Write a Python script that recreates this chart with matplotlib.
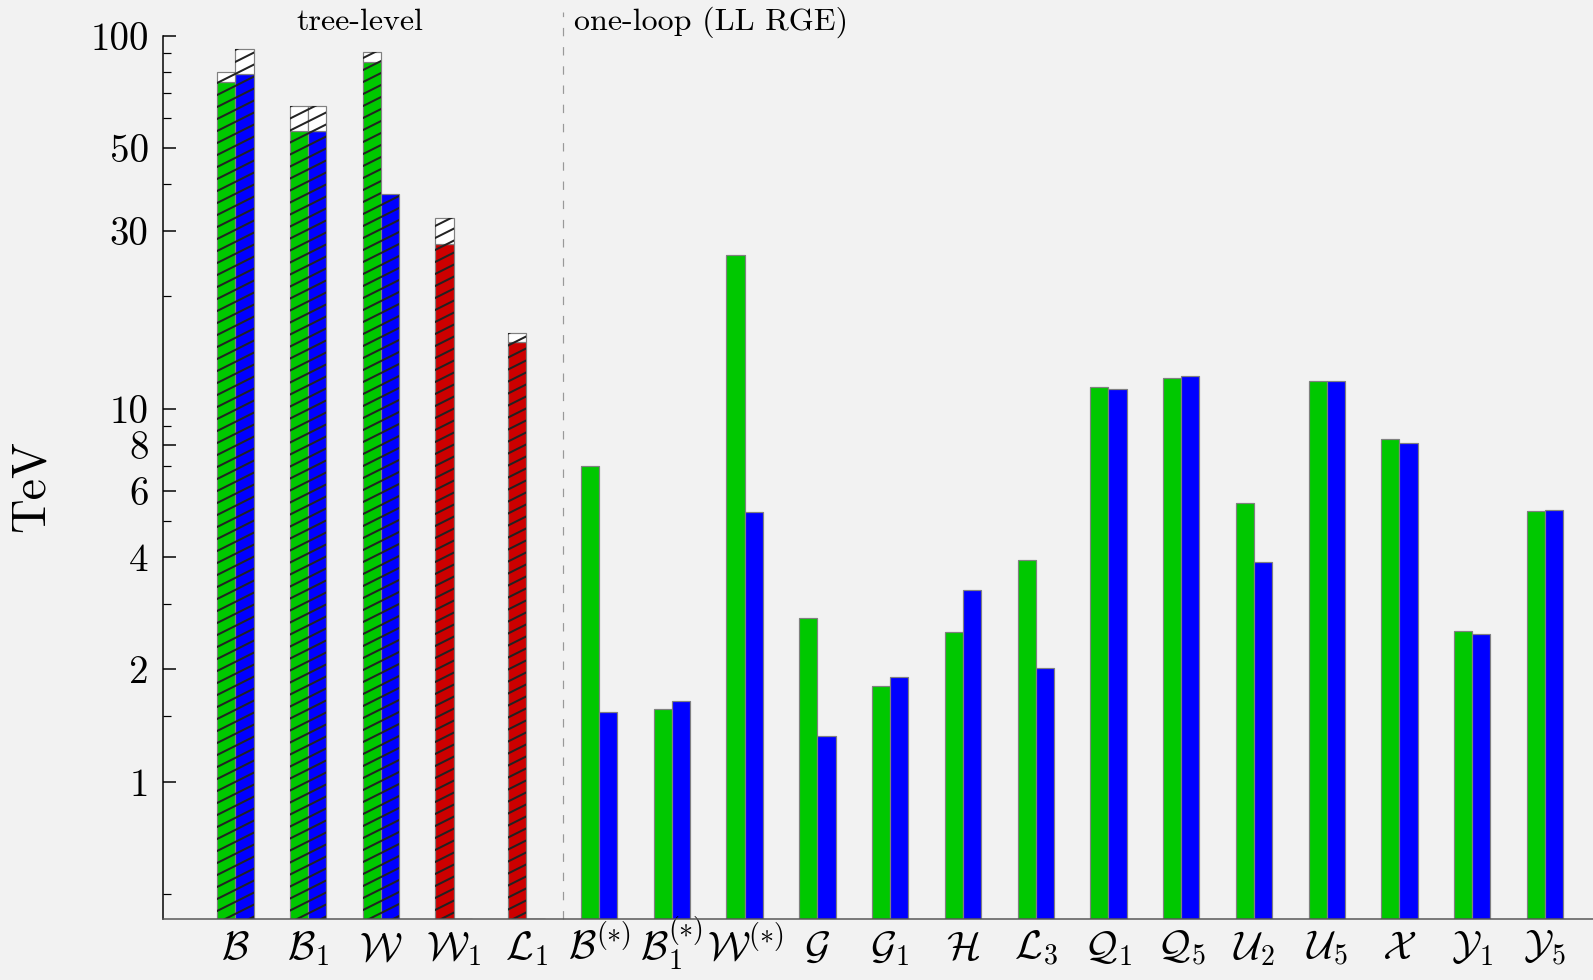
import numpy as np
import matplotlib
matplotlib.use("Agg")
from matplotlib import pyplot as plt
from matplotlib.collections import LineCollection
from matplotlib.ticker import FixedLocator, FixedFormatter

# operator labels along the x axis
names = [
    r"$\mathcal{B}$", r"$\mathcal{B}_1$", r"$\mathcal{W}$", r"$\mathcal{W}_1$",
    r"$\mathcal{L}_1$", r"$\mathcal{B}^{(*)}$", r"$\mathcal{B}_1^{(*)}$",
    r"$\mathcal{W}^{(*)}$", r"$\mathcal{G}$", r"$\mathcal{G}_1$", r"$\mathcal{H}$",
    r"$\mathcal{L}_3$", r"$\mathcal{Q}_1$", r"$\mathcal{Q}_5$", r"$\mathcal{U}_2$",
    r"$\mathcal{U}_5$", r"$\mathcal{X}$", r"$\mathcal{Y}_1$", r"$\mathcal{Y}_5$",
]
# first five are tree-level, the rest one-loop
n_tree = 5
red_names = [r"$\mathcal{W}_1$", r"$\mathcal{L}_1$"]

# bounds in TeV (left / right bar of each pair)
left_tev = [75.0, 55.5, 85.2, 27.6, 15.1, 7.0, 1.57, 25.9, 2.74, 1.81,
            2.52, 3.92, 11.4, 12.1, 5.59, 11.9, 8.28, 2.54, 5.33]
right_tev = [78.8, 55.5, 37.6, 0.0, 0.0, 1.54, 1.65, 5.30, 1.33, 1.91,
             3.27, 2.02, 11.3, 12.2, 3.89, 11.9, 8.07, 2.49, 5.36]
# upper end of the tree-level range (white caps)
left_cap = [80.0, 64.9, 90.3, 32.5, 16.0]
right_cap = [91.9, 64.9, np.nan, np.nan, np.nan]

major_ticks = [1, 2, 4, 6, 8, 10, 30, 50, 100]
minor_ticks = [0.5, 1.5, 3, 5, 7, 9, 20, 40, 60, 70, 80, 90]

GREEN = "#00c800"
BLUE = "#0000ff"
RED = "#cc0000"
EDGE = "#808080"
HATCH = "#222222"
BG = "#f2f2f2"


def hatch(ax, bars, spacing=12.0, slope=0.5, lw=2.0):
    """shallow diagonal hatching, one line set clipped to each bar"""
    bb = ax.bbox
    w, h = bb.width, bb.height
    offs = np.arange(-slope * w, h + spacing, spacing)
    segs = [[(0, c / h), (1, (c + slope * w) / h)] for c in offs]
    for rect in bars:
        lc = LineCollection(segs, colors=HATCH, linewidths=lw,
                            transform=ax.transAxes)
        ax.add_collection(lc, autolim=False)
        lc.set_clip_path(rect)


def main(savefile="out.png"):
    plt.rcParams["font.family"] = "serif"
    plt.rcParams["font.serif"] = ["cmr10", "DejaVu Serif"]
    plt.rcParams["mathtext.fontset"] = "cm"
    plt.rcParams["axes.formatter.use_mathtext"] = True

    fig = plt.figure(figsize=(1593 / 72, 980 / 72), dpi=72, facecolor=BG)
    ax = fig.add_axes([0.1021, 0.0622, 0.8979, 0.9014])
    ax.set_facecolor(BG)
    ax.set_yscale("log")
    ylo, yhi = 0.4285, 100
    ax.set_xlim(-1.0, 18.66)
    ax.set_ylim(ylo, yhi)

    x = np.arange(len(names))
    w = 0.25
    left = np.array(left_tev)
    right = np.array(right_tev)
    lcol = [RED if n in red_names else GREEN for n in names]

    hl = np.maximum(left - ylo, 0)
    hr = np.maximum(right - ylo, 0)
    redge = ["k" if v == 0 else EDGE for v in right]
    lbars = ax.bar(x - w / 2, hl, w, bottom=ylo, color=lcol, edgecolor=EDGE,
                   lw=1.2)
    rbars = ax.bar(x + w / 2, hr, w, bottom=ylo, color=BLUE, edgecolor=redge,
                   lw=1.2)

    # tree-level bars are hatched, including their white caps
    hatched = list(lbars)[:n_tree] + [b for b, v in zip(rbars, right)
                                      if v > 0][:3]
    xt = x[:n_tree]
    for off, base, cap in ((-w / 2, left[:n_tree], left_cap),
                           (w / 2, right[:n_tree], right_cap)):
        cap = np.array(cap)
        ok = ~np.isnan(cap)
        caps = ax.bar(xt[ok] + off, cap[ok] - base[ok], w, bottom=base[ok],
                      facecolor="white", edgecolor=EDGE, lw=1.2)
        hatched += list(caps)
    hatch(ax, hatched)

    # separator between tree-level and one-loop
    ax.plot([n_tree - 0.5, n_tree - 0.5], [ylo, 116], color="#999999",
            lw=1.2, ls=(0, (7, 9)), clip_on=False, zorder=0)
    ax.text(1.71, 108.8, "tree-level", ha="center", va="center",
            fontsize=32, clip_on=False)
    ax.text(4.65, 108.5, "one-loop (LL RGE)", ha="left", va="center",
            fontsize=32, clip_on=False)

    ax.yaxis.set_major_locator(FixedLocator(major_ticks))
    ax.yaxis.set_major_formatter(FixedFormatter([str(t) for t in major_ticks]))
    ax.yaxis.set_minor_locator(FixedLocator(minor_ticks))
    ax.yaxis.set_minor_formatter(FixedFormatter([""] * len(minor_ticks)))
    ax.tick_params(axis="y", which="major", direction="in", length=13,
                   width=1.5, labelsize=39, pad=14)
    ax.tick_params(axis="y", which="minor", direction="in", length=8,
                   width=1.2)
    ax.set_xticks(x)
    ax.set_xticklabels(names, va="baseline")
    ax.tick_params(axis="x", length=0, labelsize=40, pad=40)

    ax.spines["top"].set_visible(False)
    ax.spines["right"].set_visible(False)
    ax.spines["left"].set_linewidth(1.5)
    ax.spines["bottom"].set_color("#555555")
    ax.spines["bottom"].set_linewidth(1.5)

    ax.set_ylabel("TeV", fontsize=48)
    ax.yaxis.set_label_coords(-0.076, 0.49)

    plt.savefig(savefile, dpi=72, facecolor=BG)


if __name__ == "__main__":
    main()
